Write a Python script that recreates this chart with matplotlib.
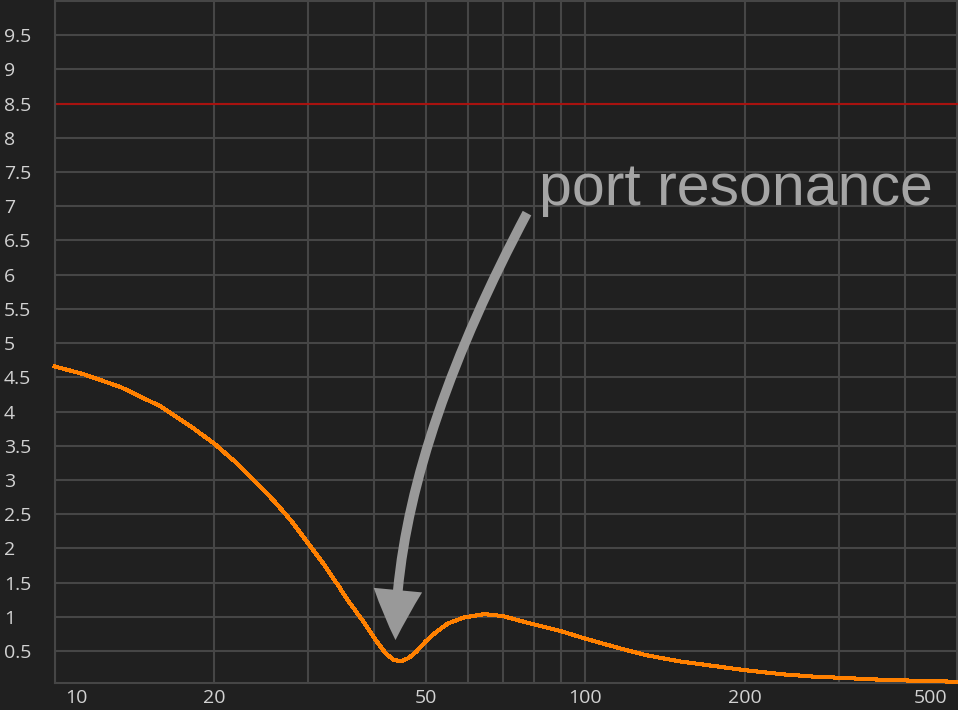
import matplotlib
matplotlib.use("Agg")
import matplotlib.pyplot as plt
from matplotlib.ticker import FixedLocator, NullFormatter
from matplotlib.transforms import ScaledTranslation

# ---- data ----
freq_hz = [10, 11.3, 13.3, 15.8, 18, 20, 22, 24, 26, 28, 30, 32, 34, 36, 38,
           40, 42, 43.5, 45, 46.5, 48, 50, 52, 55, 59, 64.5, 70, 78, 90, 100,
           116, 130, 150, 175, 200, 235, 270, 300, 350, 400, 450, 503]
excursion = [4.66, 4.55, 4.36, 4.08, 3.79, 3.53, 3.25, 2.96, 2.68, 2.39, 2.08,
             1.79, 1.49, 1.20, 0.95, 0.69, 0.47, 0.37, 0.35, 0.40, 0.49, 0.64,
             0.76, 0.90, 0.99, 1.04, 1.01, 0.91, 0.79, 0.68, 0.54, 0.44, 0.35,
             0.28, 0.22, 0.16, 0.125, 0.11, 0.085, 0.07, 0.06, 0.05]
limit_value = 8.5
x_major = [10, 20, 50, 100, 200, 500]
x_major_labels = ["10", "20", "50", "100", "200", "500"]
x_minor = [30, 40, 60, 70, 80, 90, 300, 400]
y_ticks = [0.5, 1, 1.5, 2, 2.5, 3, 3.5, 4, 4.5, 5, 5.5, 6, 6.5, 7, 7.5, 8,
           8.5, 9, 9.5]
y_labels = ["0.5", "1", "1.5", "2", "2.5", "3", "3.5", "4", "4.5", "5", "5.5",
            "6", "6.5", "7", "7.5", "8", "8.5", "9", "9.5"]
annotation_text = "port resonance"

# ---- style ----
BG = "#202020"
GRID = "#464646"
TXT = "#d2d2d2"

W, H = 958, 710
fig = plt.figure(figsize=(W / 100, H / 100), dpi=100, facecolor=BG)
left_px, bottom_px, top_px = 54.5, 682.5, 1.0
ax = fig.add_axes([left_px / W, (H - bottom_px) / H,
                   (W - left_px) / W, (bottom_px - top_px) / H])
ax.set_facecolor(BG)
ax.set_xscale("log")
ax.set_xlim(10, 503)
ax.set_ylim(0.04, 10)

ax.xaxis.set_major_locator(FixedLocator(x_major))
ax.xaxis.set_minor_locator(FixedLocator(x_minor))
ax.xaxis.set_minor_formatter(NullFormatter())
ax.set_xticks(x_major, x_major_labels)
ax.set_yticks(y_ticks, y_labels)

ax.grid(which="both", color=GRID, lw=1.5)
ax.set_axisbelow(True)

for side in ["left", "bottom", "top"]:
    ax.spines[side].set_color(GRID)
    ax.spines[side].set_linewidth(1.5)
ax.spines["right"].set_visible(False)

font = ["Open Sans", "DejaVu Sans"]
ax.tick_params(axis="both", which="both", length=0, colors=TXT)
ax.tick_params(axis="y", pad=36.4, labelsize=14)
ax.tick_params(axis="x", pad=4.5, labelsize=14)
for lab in ax.get_yticklabels():
    lab.set_horizontalalignment("left")
    lab.set_family(font)
xl = ax.get_xticklabels()
for lab in xl:
    lab.set_family(font)
xl[0].set_transform(xl[0].get_transform() + ScaledTranslation(0.215, 0, fig.dpi_scale_trans))
xl[-1].set_transform(xl[-1].get_transform() + ScaledTranslation(-0.26, 0, fig.dpi_scale_trans))

# limit line
ax.axhline(limit_value, color="#a8120f", lw=1.5, zorder=2)

# response curve
ax.plot(freq_hz, excursion, color="#ff8000", lw=2.2, antialiased=False,
        zorder=3, clip_on=False)

# annotation
ax.text(81.6, 7.02, annotation_text, family=["Liberation Sans", "DejaVu Sans"],
        fontsize=42.5, color="#a5a5a5", ha="left", va="baseline", zorder=4)
ax.annotate("", xy=(43.87, 0.66), xytext=(77.6, 6.90),
            arrowprops=dict(arrowstyle="simple,head_length=36,head_width=35,tail_width=7",
                            connectionstyle="angle3,angleA=62,angleB=90",
                            mutation_scale=1, shrinkA=0, shrinkB=0,
                            fc="#999999", ec="none", lw=0),
            zorder=4)

fig.savefig("out.png", dpi=100, facecolor=BG)
